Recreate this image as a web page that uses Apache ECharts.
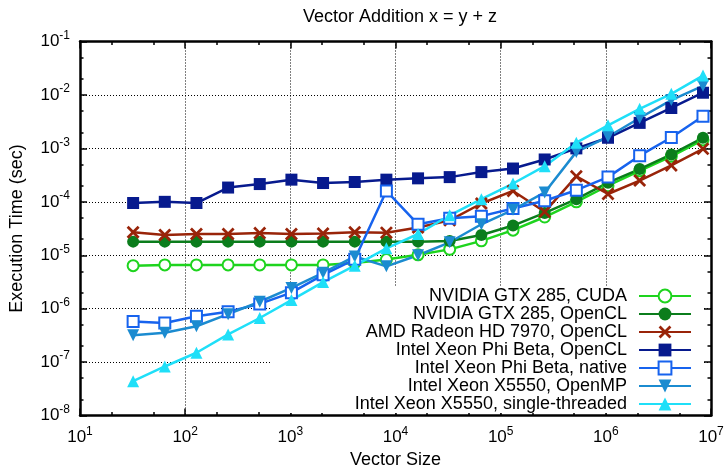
<!DOCTYPE html>
<html>
<head>
<meta charset="utf-8">
<script src="https://cdn.jsdelivr.net/npm/echarts@6/dist/echarts.min.js"></script>
<style>
  html, body { margin: 0; background: #fff; }
  #chart { width: 728px; height: 474px; }
</style>
</head>
<body>
<div id="chart"></div>
<script>
// vector sizes 2^5 .. 2^23
const sizes = [32, 64, 128, 256, 512, 1024, 2048, 4096, 8192, 16384, 32768, 65536,
  131072, 262144, 524288, 1048576, 2097152, 4194304, 8388608]

const gtxCuda = [6.4e-6, 6.6e-6, 6.6e-6, 6.6e-6, 6.6e-6, 6.6e-6, 6.6e-6, 7.2e-6, 8.3e-6, 1.02e-5,
  1.29e-5, 1.86e-5, 2.95e-5, 5.2e-5, 1.0e-4, 2.0e-4, 3.8e-4, 7.1e-4, 1.44e-3]
const gtxOpenCL = [1.8e-5, 1.8e-5, 1.8e-5, 1.8e-5, 1.8e-5, 1.8e-5, 1.8e-5, 1.8e-5, 1.8e-5, 1.8e-5,
  1.85e-5, 2.4e-5, 3.6e-5, 6.2e-5, 1.12e-4, 2.28e-4, 4.1e-4, 7.7e-4, 1.58e-3]
const amdOpenCL = [2.7e-5, 2.4e-5, 2.5e-5, 2.5e-5, 2.6e-5, 2.5e-5, 2.55e-5, 2.7e-5, 2.65e-5, 3.3e-5,
  4.5e-5, 9.3e-5, 1.6e-4, 6.5e-5, 3.0e-4, 1.4e-4, 2.5e-4, 4.8e-4, 9.8e-4]
const phiOpenCL = [9.5e-5, 1.0e-4, 9.5e-5, 1.85e-4, 2.15e-4, 2.6e-4, 2.25e-4, 2.35e-4, 2.6e-4, 2.75e-4,
  2.9e-4, 3.6e-4, 4.2e-4, 6.2e-4, 1.0e-3, 1.58e-3, 3.0e-3, 5.7e-3, 1.1e-2]
const phiNative = [5.75e-7, 5.4e-7, 7.2e-7, 8.8e-7, 1.23e-6, 2.0e-6, 4.3e-6, 8.4e-6, 1.6e-4, 3.8e-5,
  4.95e-5, 5.4e-5, 7.5e-5, 1.05e-4, 1.65e-4, 2.9e-4, 7.3e-4, 1.6e-3, 4.0e-3]
const xeonOpenMP = [3.2e-7, 3.55e-7, 4.7e-7, 7.9e-7, 1.35e-6, 2.45e-6, 4.7e-6, 9.5e-6, 6.2e-6, 1.0e-5,
  1.75e-5, 3.8e-5, 7.1e-5, 1.5e-4, 8.6e-4, 1.65e-3, 3.7e-3, 8.0e-3, 1.48e-2]
const xeonSingle = [4.4e-8, 8.3e-8, 1.5e-7, 3.3e-7, 6.7e-7, 1.45e-6, 3.15e-6, 6.4e-6, 1.35e-5, 2.5e-5,
  5.6e-5, 1.12e-4, 2.2e-4, 4.65e-4, 1.28e-3, 2.7e-3, 5.5e-3, 1.05e-2, 2.3e-2]

// minor tics at 2 and 5 of every decade
const xMinorTicks = [20, 50, 200, 500, 2e3, 5e3, 2e4, 5e4, 2e5, 5e5, 2e6, 5e6]
const yMinorTicks = [2e-8, 5e-8, 2e-7, 5e-7, 2e-6, 5e-6, 2e-5, 5e-5, 2e-4, 5e-4, 2e-3, 5e-3, 2e-2, 5e-2]

const font = 'Liberation Sans, Arial, Helvetica, sans-serif'
const crossPath = 'path://M1.5,0L5,3.5L8.5,0L10,1.5L6.5,5L10,8.5L8.5,10L5,6.5L1.5,10L0,8.5L3.5,5L0,1.5Z'

const powerLabel = (v) => '{b|10}{s|' + Math.round(Math.log10(v)) + '}'
const richPower = {
  b: { fontSize: 17, fontFamily: font, color: '#000', lineHeight: 24 },
  s: { fontSize: 12, fontFamily: font, color: '#000', lineHeight: 12, verticalAlign: 'top' }
}
const frame = { show: true, onZero: false, lineStyle: { color: '#000', width: 2.5 } }
const dotted = { show: true, lineStyle: { color: '#000', width: 1, type: [1, 2] } }

const makeAxis = (pos, min, max, isMinor, withLabels) => ({
  type: 'log',
  logBase: 10,
  min: min,
  max: max,
  position: pos,
  splitNumber: 7,
  axisLine: isMinor ? { show: false } : frame,
  axisTick: isMinor
    ? { show: true, inside: true, length: 3.5, lineStyle: { color: '#000', width: 1.5 },
        customValues: pos === 'bottom' || pos === 'top' ? xMinorTicks : yMinorTicks }
    : { show: true, inside: true, length: 7, lineStyle: { color: '#000', width: 1.5 } },
  axisLabel: withLabels
    ? { show: true, formatter: powerLabel, rich: richPower, margin: 10 }
    : { show: false },
  splitLine: withLabels ? dotted : { show: false },
  minorTick: { show: false },
  minorSplitLine: { show: false }
})

const xMain = makeAxis('bottom', 10, 1e7, false, true)
xMain.name = 'Vector Size'
xMain.nameLocation = 'middle'
xMain.nameGap = 33
xMain.nameTextStyle = { fontSize: 18, fontFamily: font, color: '#000' }

const yMain = makeAxis('left', 1e-8, 1e-1, false, true)
yMain.name = 'Execution Time (sec)'
yMain.nameLocation = 'middle'
yMain.nameGap = 54
yMain.nameTextStyle = { fontSize: 18, fontFamily: font, color: '#000' }

const mkSeries = (name, data, color, symbol, size, extra) => Object.assign({
  name: name,
  type: 'line',
  z: 3,
  data: data.map((v, i) => [sizes[i], v]),
  symbol: symbol,
  symbolSize: size,
  showAllSymbol: true,
  lineStyle: { color: color, width: 2.5 },
  itemStyle: { color: color },
  emphasis: { disabled: true },
  animation: false
}, extra || {})

const option = {
  backgroundColor: '#fff',
  animation: false,
  textStyle: { fontFamily: font },
  title: {
    text: 'Vector Addition x = y + z',
    left: 395,
    top: 3,
    textAlign: 'center',
    textStyle: { fontSize: 18, fontWeight: 'normal', color: '#000', fontFamily: font }
  },
  legend: {
    orient: 'vertical',
    z: 1,
    left: 270,
    top: 286,
    align: 'right',
    itemWidth: 52,
    itemHeight: 16,
    itemGap: 0,
    padding: [1, 11, 0, 12],
    backgroundColor: '#fff',
    textStyle: { fontSize: 18, color: '#000', fontFamily: font, width: 345, lineHeight: 18, padding: [0, 7, 0, 0] },
    selectedMode: false
  },
  grid: { left: 79, top: 41.5, width: 632, height: 380 },
  xAxis: [
    xMain,
    makeAxis('top', 10, 1e7, false, false),
    makeAxis('bottom', 10, 1e7, true, false),
    makeAxis('top', 10, 1e7, true, false)
  ],
  yAxis: [
    yMain,
    makeAxis('right', 1e-8, 1e-1, false, false),
    makeAxis('left', 1e-8, 1e-1, true, false),
    makeAxis('right', 1e-8, 1e-1, true, false)
  ],
  series: [
    mkSeries('NVIDIA GTX 285, CUDA', gtxCuda, '#1ed41e', 'emptyCircle', 11,
      { itemStyle: { color: '#1ed41e', borderWidth: 2.5 } }),
    mkSeries('NVIDIA GTX 285, OpenCL', gtxOpenCL, '#0b7d1c', 'circle', 12),
    mkSeries('AMD Radeon HD 7970, OpenCL', amdOpenCL, '#992409', crossPath, 13),
    mkSeries('Intel Xeon Phi Beta, OpenCL', phiOpenCL, '#071a8e', 'rect', 12),
    mkSeries('Intel Xeon Phi Beta, native', phiNative, '#1763ee', 'emptyRect', 11,
      { itemStyle: { color: '#1763ee', borderWidth: 2.5 } }),
    mkSeries('Intel Xeon X5550, OpenMP', xeonOpenMP, '#1b8bd0', 'triangle', 12, { symbolRotate: 180 }),
    mkSeries('Intel Xeon X5550, single-threaded', xeonSingle, '#1fdff8', 'triangle', 12)
  ]
}

const myChart = echarts.init(document.getElementById('chart'), null, { renderer: 'canvas' })
myChart.setOption(option)
</script>
</body>
</html>
